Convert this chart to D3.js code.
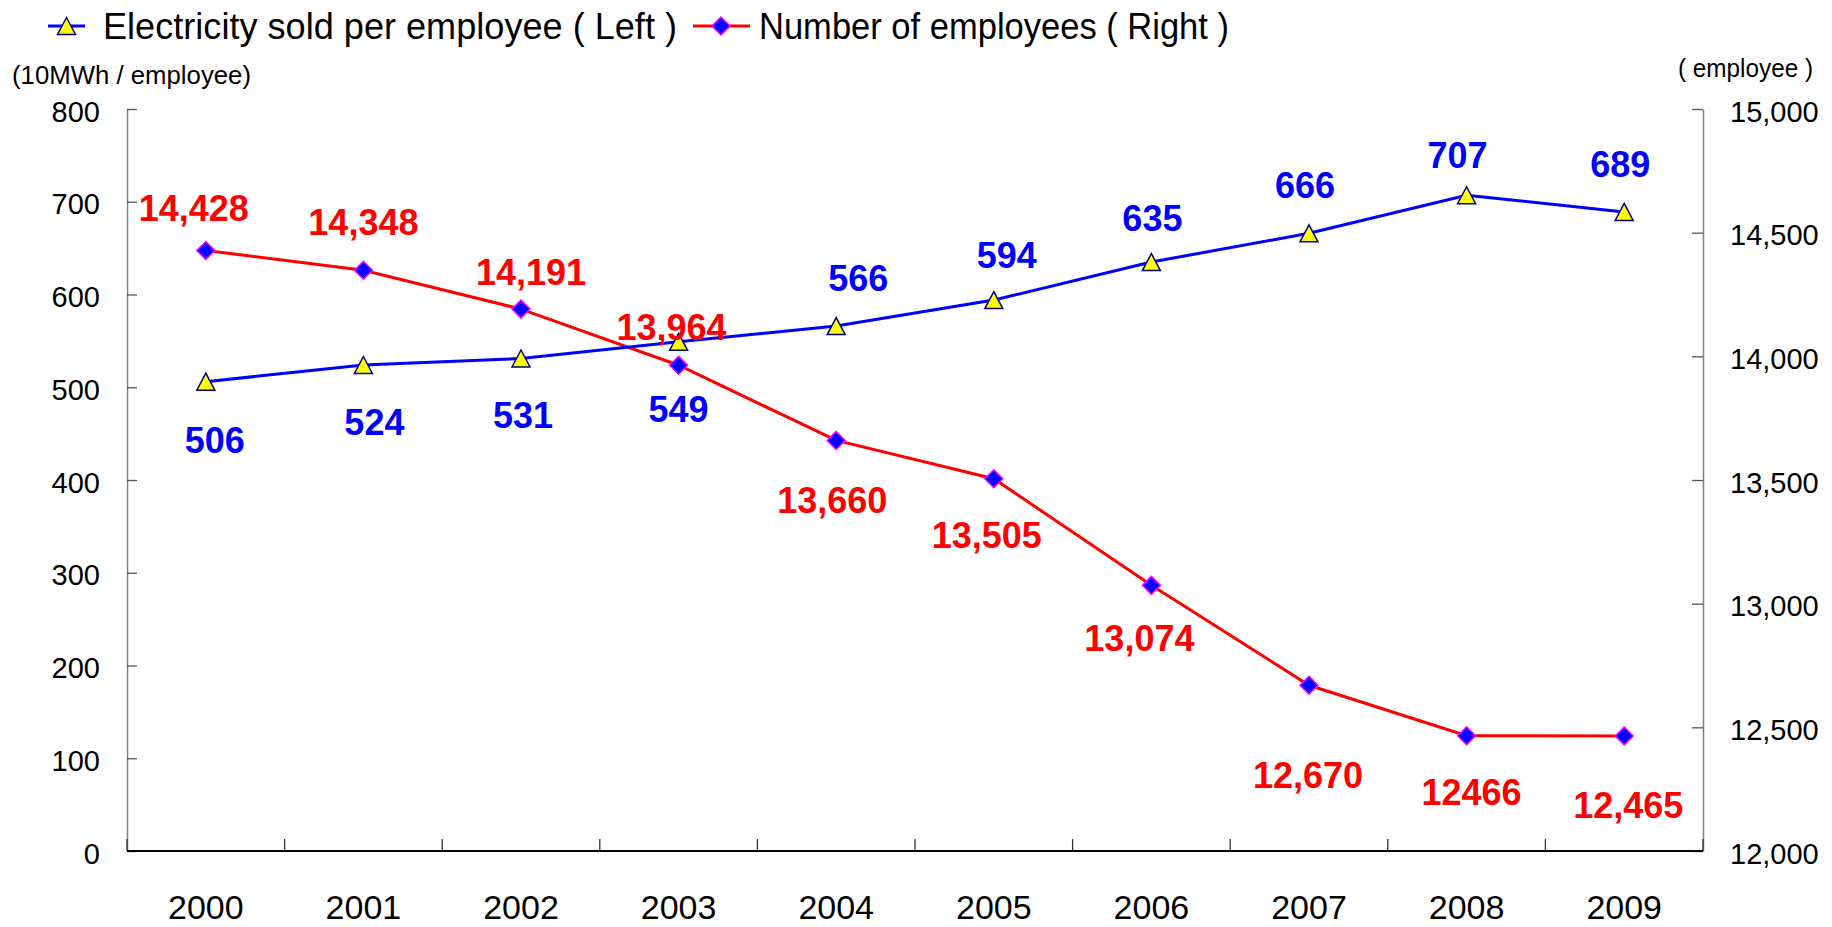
<!DOCTYPE html>
<html>
<head>
<meta charset="utf-8">
<script src="https://cdn.jsdelivr.net/npm/d3@7/dist/d3.min.js"></script>
<style>
  html, body { margin: 0; padding: 0; background: #fff; }
  svg { display: block; font-family: "Liberation Sans", Arial, sans-serif; }
</style>
</head>
<body>
<svg id="chart" width="1832" height="927"></svg>
<script>
// Categories and series
const years = ["2000", "2001", "2002", "2003", "2004", "2005", "2006", "2007", "2008", "2009"];
const electricityPerEmployee = [506, 524, 531, 549, 566, 594, 635, 666, 707, 689];
const employees = [14428, 14348, 14191, 13964, 13660, 13505, 13074, 12670, 12466, 12465];
const employeeLabels = ["14,428", "14,348", "14,191", "13,964", "13,660", "13,505", "13,074", "12,670", "12466", "12,465"];

// Axis ticks
const leftTicks = [0, 100, 200, 300, 400, 500, 600, 700, 800];
const rightTicks = [12000, 12500, 13000, 13500, 14000, 14500, 15000];

// Label placement relative to each point (pixels)
const blueLabelOffset = [[9, 58], [11, 57], [2, 57], [0, 67], [22, -48], [13, -45], [1, -44], [-4, -48], [-9, -40], [-4, -48]];
const redLabelOffset = [[-12, -42], [0, -48], [10, -37], [-7, -38], [-4, 60], [-7, 56], [-12, 53], [-1, 90], [5, 56], [4, 69]];

const plot = { left: 127, right: 1703, top: 109, bottom: 851 };
const svg = d3.select("#chart");

const x = d3.scaleBand().domain(years).range([plot.left, plot.right]).padding(0);
const cx = d => x(d) + x.bandwidth() / 2;
const yL = d3.scaleLinear().domain([0, 800]).range([plot.bottom, plot.top]);
const yR = d3.scaleLinear().domain([12000, 15000]).range([plot.bottom, plot.top]);

const trianglePath = "M0,-8.5L9,8.5L-9,8.5Z";
const diamondPath = "M0,-9L9,0L0,9L-9,0Z";

// Left axis
const gL = svg.append("g").attr("transform", `translate(${plot.left},0)`)
  .call(d3.axisLeft(yL).tickValues(leftTicks).tickSizeInner(-10).tickSizeOuter(0).tickPadding(27));
gL.select(".domain").attr("stroke", "#808080").attr("stroke-width", 1.5);
gL.selectAll(".tick line").attr("stroke", "#555").attr("stroke-width", 1.3);
gL.selectAll(".tick text").attr("font-size", 29).attr("fill", "#000").attr("dy", "0.42em")
  .attr("font-family", "Liberation Sans, Arial, sans-serif");

// Right axis
const gR = svg.append("g").attr("transform", `translate(${plot.right},0)`)
  .call(d3.axisRight(yR).tickValues(rightTicks).tickSizeInner(-11).tickSizeOuter(0).tickPadding(27)
    .tickFormat(d3.format(",")));
gR.select(".domain").attr("stroke", "#808080").attr("stroke-width", 1.5);
gR.selectAll(".tick line").attr("stroke", "#555").attr("stroke-width", 1.3);
gR.selectAll(".tick text").attr("font-size", 29).attr("fill", "#000").attr("dy", "0.42em")
  .attr("font-family", "Liberation Sans, Arial, sans-serif");

// Category axis: labels at band centres, ticks at band boundaries
const gX = svg.append("g").attr("transform", `translate(0,${plot.bottom})`)
  .call(d3.axisBottom(x).tickSize(0).tickPadding(44));
gX.select(".domain").remove();
gX.selectAll(".tick text").attr("font-size", 34).attr("fill", "#000")
  .attr("font-family", "Liberation Sans, Arial, sans-serif");
const bounds = years.map(d => x(d)).concat([x.range()[1]]);
svg.append("g").selectAll("line").data(bounds).join("line")
  .attr("x1", d => d).attr("x2", d => d)
  .attr("y1", plot.bottom - 12).attr("y2", plot.bottom)
  .attr("stroke", "#333").attr("stroke-width", 1.3);
svg.append("line")
  .attr("x1", plot.left).attr("x2", plot.right)
  .attr("y1", plot.bottom).attr("y2", plot.bottom)
  .attr("stroke", "#000").attr("stroke-width", 2);

// Axis unit titles
svg.append("text").attr("x", 12).attr("y", 84)
  .attr("font-size", 25).attr("textLength", 239).attr("lengthAdjust", "spacingAndGlyphs")
  .text("(10MWh / employee)");
svg.append("text").attr("x", 1678).attr("y", 77)
  .attr("font-size", 25).attr("textLength", 135).attr("lengthAdjust", "spacingAndGlyphs")
  .text("( employee )");

// Lines
const lineL = d3.line().x((d, i) => cx(years[i])).y(d => yL(d));
const lineR = d3.line().x((d, i) => cx(years[i])).y(d => yR(d));

svg.append("path").datum(employees).attr("d", lineR)
  .attr("fill", "none").attr("stroke", "#ff0000").attr("stroke-width", 3);
svg.append("path").datum(electricityPerEmployee).attr("d", lineL)
  .attr("fill", "none").attr("stroke", "#0000ff").attr("stroke-width", 3);

// Markers
svg.append("g").selectAll("path").data(employees).join("path")
  .attr("d", diamondPath)
  .attr("transform", (d, i) => `translate(${cx(years[i])},${yR(d)})`)
  .attr("fill", "#0000ff").attr("stroke", "#ff00ff").attr("stroke-width", 1.5);
svg.append("g").selectAll("path").data(electricityPerEmployee).join("path")
  .attr("d", trianglePath)
  .attr("transform", (d, i) => `translate(${cx(years[i])},${yL(d)})`)
  .attr("fill", "#ffff00").attr("stroke", "#000080").attr("stroke-width", 1.5);

// Value labels
svg.append("g").selectAll("text").data(electricityPerEmployee).join("text")
  .attr("x", (d, i) => cx(years[i]) + blueLabelOffset[i][0])
  .attr("y", (d, i) => yL(d) + blueLabelOffset[i][1])
  .attr("dy", "0.36em").attr("text-anchor", "middle")
  .attr("font-size", 36).attr("font-weight", "bold").attr("fill", "#0000ff")
  .text(d => d);
svg.append("g").selectAll("text").data(employees).join("text")
  .attr("x", (d, i) => cx(years[i]) + redLabelOffset[i][0])
  .attr("y", (d, i) => yR(d) + redLabelOffset[i][1])
  .attr("dy", "0.36em").attr("text-anchor", "middle")
  .attr("font-size", 36).attr("font-weight", "bold").attr("fill", "#ff0000")
  .text((d, i) => employeeLabels[i]);

// Legend
const legendY = 26;
const lg = svg.append("g");
lg.append("line").attr("x1", 48).attr("x2", 85).attr("y1", legendY).attr("y2", legendY)
  .attr("stroke", "#0000ff").attr("stroke-width", 3);
lg.append("path").attr("d", trianglePath).attr("transform", `translate(66.5,${legendY})`)
  .attr("fill", "#ffff00").attr("stroke", "#000080").attr("stroke-width", 1.5);
lg.append("text").attr("x", 103).attr("y", 38.5)
  .attr("font-size", 36).attr("textLength", 574).attr("lengthAdjust", "spacingAndGlyphs")
  .text("Electricity sold per employee ( Left )");
lg.append("line").attr("x1", 693).attr("x2", 750).attr("y1", legendY).attr("y2", legendY)
  .attr("stroke", "#ff0000").attr("stroke-width", 3);
lg.append("path").attr("d", diamondPath).attr("transform", `translate(721,${legendY})`)
  .attr("fill", "#0000ff").attr("stroke", "#ff00ff").attr("stroke-width", 1.5);
lg.append("text").attr("x", 759).attr("y", 38.5)
  .attr("font-size", 36).attr("textLength", 470).attr("lengthAdjust", "spacingAndGlyphs")
  .text("Number of employees ( Right )");
</script>
</body>
</html>
